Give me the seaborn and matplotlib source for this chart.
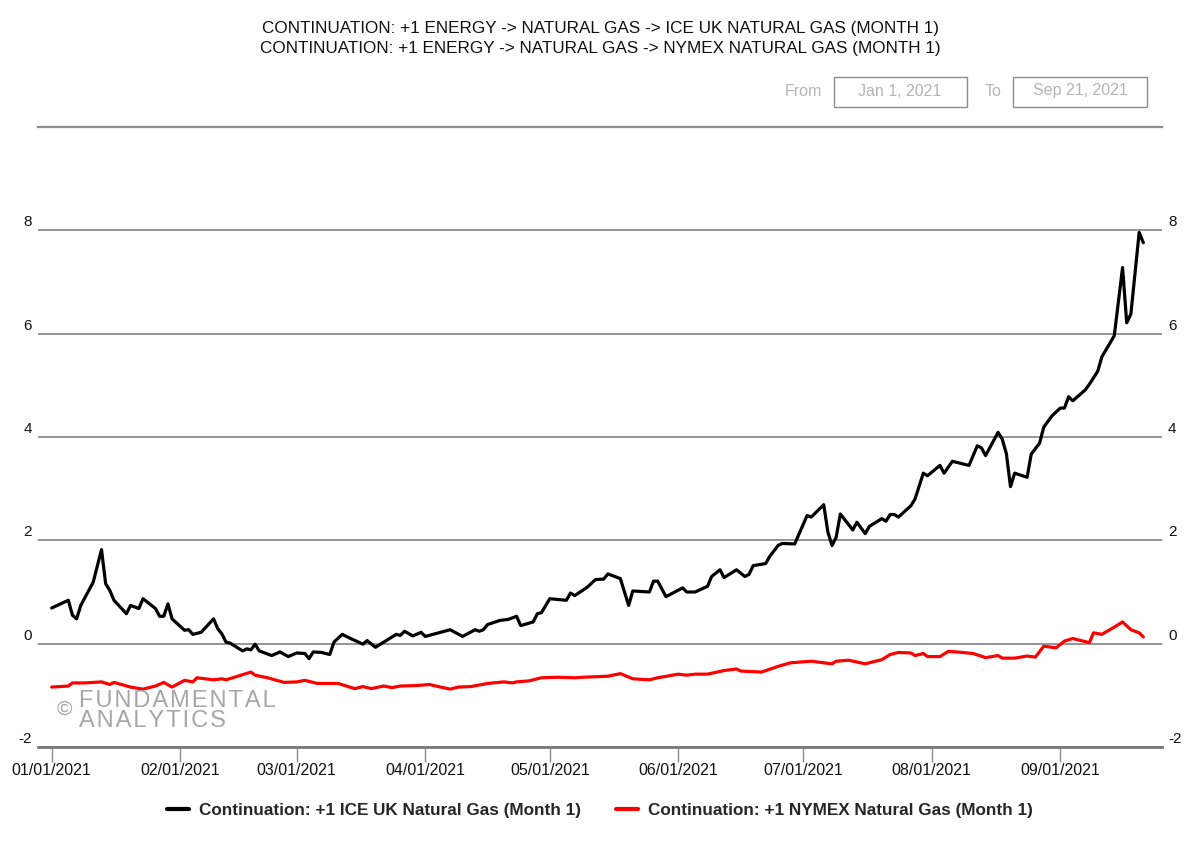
import numpy as np
import pandas as pd
import matplotlib
matplotlib.use("Agg")
import matplotlib.pyplot as plt
import matplotlib.dates as mdates
from matplotlib.lines import Line2D
from matplotlib.patches import Rectangle
import seaborn as sns

''' Data (read off the reference picture) '''
title_lines = [
    "CONTINUATION: +1 ENERGY -> NATURAL GAS -> ICE UK NATURAL GAS (MONTH 1)",
    "CONTINUATION: +1 ENERGY -> NATURAL GAS -> NYMEX NATURAL GAS (MONTH 1)",
]
series_names = [
    "Continuation: +1 ICE UK Natural Gas (Month 1)",
    "Continuation: +1 NYMEX Natural Gas (Month 1)",
]
series_colors = ["#000000", "#ff0000"]
range_from = "Jan 1, 2021"
range_to = "Sep 21, 2021"

#days since 2021-01-01
ice_day = [0, 4, 5, 6, 7, 10, 12, 13, 14, 15, 18, 19, 21, 22, 25, 26, 27, 28, 29,
           32, 33, 34, 36, 39, 40, 41, 42, 43, 46, 47, 48, 49, 50, 53, 55, 57, 59,
           61, 62, 63, 65, 67, 68, 70, 72, 75, 76, 78, 80, 83, 84, 85, 87, 89, 90,
           96, 99, 102, 103, 104, 105, 108, 110, 112, 113, 116, 117, 118, 120, 124,
           125, 126, 129, 131, 133, 134, 137, 139, 140, 144, 145, 146, 148, 152,
           153, 155, 158, 159, 161, 162, 165, 167, 168, 169, 172, 173, 175, 176,
           179, 182, 183, 186, 187, 188, 189, 190, 193, 194, 196, 197, 200, 201,
           202, 203, 204, 207, 208, 210, 211, 214, 215, 217, 221, 223, 224, 225,
           228, 229, 230, 231, 232, 235, 236, 238, 239, 241, 243, 244, 245, 246,
           249, 250, 252, 253, 256, 258, 259, 260, 262, 263]
ice_val = [0.69, 0.84, 0.55, 0.48, 0.74, 1.19, 1.82, 1.16, 1.03, 0.84, 0.58, 0.74, 0.68, 0.87, 0.68, 0.53, 0.53, 0.77, 0.48,
           0.26, 0.27, 0.18, 0.22, 0.48, 0.29, 0.19, 0.03, 0.01, -0.14, -0.10, -0.12, -0.01, -0.14, -0.23, -0.16, -0.25, -0.18,
           -0.19, -0.29, -0.16, -0.17, -0.21, 0.03, 0.18, 0.10, -0.01, 0.06, -0.07, 0.03, 0.18, 0.16, 0.24, 0.15, 0.22, 0.14,
           0.27, 0.14, 0.27, 0.24, 0.27, 0.37, 0.45, 0.47, 0.53, 0.35, 0.42, 0.58, 0.60, 0.87, 0.84,
           0.98, 0.93, 1.09, 1.24, 1.25, 1.35, 1.26, 0.74, 1.02, 1.00, 1.21, 1.21, 0.91, 1.08,
           1.00, 1.00, 1.11, 1.30, 1.43, 1.28, 1.43, 1.30, 1.34, 1.51, 1.55, 1.69, 1.90, 1.94,
           1.93, 2.48, 2.45, 2.69, 2.16, 1.90, 2.06, 2.51, 2.20, 2.35, 2.13, 2.27, 2.42, 2.37,
           2.50, 2.50, 2.45, 2.67, 2.80, 3.30, 3.25, 3.45, 3.30, 3.53, 3.45, 3.83, 3.79, 3.64,
           4.09, 3.96, 3.68, 3.04, 3.30, 3.22, 3.67, 3.88, 4.19, 4.41, 4.56, 4.56, 4.78, 4.70,
           4.91, 5.02, 5.27, 5.55, 5.96, 7.28, 6.21, 6.38, 7.96, 7.76]

nymex_day = [0, 4, 5, 8, 12, 14, 15, 19, 22, 25, 27, 29, 32, 34, 35, 39, 41, 42, 48, 49,
             52, 56, 59, 61, 64, 69, 73, 75, 77, 80, 82, 84, 88, 91, 92, 96, 98, 101,
             105, 109, 111, 112, 115, 118, 122, 126, 128, 134, 137, 140, 144, 146, 151,
             153, 155, 158, 162, 165, 166, 171, 175, 178, 183, 188, 189, 192, 196, 200,
             202, 204, 207, 208, 210, 211, 214, 216, 218, 222, 225, 228, 229, 232, 235,
             237, 239, 242, 244, 246, 250, 251, 253, 256, 258, 260, 262, 263]
nymex_val = [-0.84, -0.82, -0.76, -0.76, -0.74, -0.79, -0.75, -0.84, -0.88, -0.82, -0.75, -0.84, -0.71, -0.74, -0.66, -0.70, -0.68, -0.70, -0.55, -0.61,
             -0.66, -0.75, -0.74, -0.71, -0.77, -0.77, -0.87, -0.83, -0.87, -0.82, -0.85, -0.82, -0.81, -0.79, -0.81, -0.88, -0.84, -0.83,
             -0.77, -0.74, -0.76, -0.74, -0.72, -0.66, -0.65, -0.66, -0.65, -0.63, -0.58, -0.68, -0.70, -0.66, -0.59,
             -0.61, -0.59, -0.59, -0.52, -0.49, -0.53, -0.55, -0.44, -0.37, -0.34, -0.39, -0.34, -0.32, -0.39, -0.31,
             -0.21, -0.17, -0.18, -0.23, -0.19, -0.25, -0.25, -0.15, -0.16, -0.19, -0.27, -0.23, -0.28, -0.28, -0.24,
             -0.26, -0.05, -0.08, 0.05, 0.10, 0.02, 0.21, 0.18, 0.32, 0.42, 0.27, 0.21, 0.13]

y_ticks = [-2, 0, 2, 4, 6, 8]
month_ticks = ["2021-01-01", "2021-02-01", "2021-03-01", "2021-04-01", "2021-05-01",
               "2021-06-01", "2021-07-01", "2021-08-01", "2021-09-01"]

''' Build the table '''
base = pd.Timestamp("2021-01-01")
df = pd.concat([
    pd.DataFrame({"date": base + pd.to_timedelta(ice_day, unit="D"),
                  "value": ice_val, "series": series_names[0]}),
    pd.DataFrame({"date": base + pd.to_timedelta(nymex_day, unit="D"),
                  "value": nymex_val, "series": series_names[1]}),
], ignore_index=True)

''' Plot '''
sns.set_theme(style="white")
plt.rcParams["font.family"] = ["Liberation Sans", "DejaVu Sans"]

W, H = 1200, 848
fig = plt.figure(figsize=(12, 8.48), dpi=100)
ax = fig.add_axes([38 / W, 1 - 747 / H, 1124 / W, 620 / H])

sns.lineplot(data=df, x="date", y="value", hue="series", hue_order=series_names,
             palette=series_colors, linewidth=2.3, estimator=None, legend=False, ax=ax)

ax.set_xlim(base - pd.Timedelta(days=3.3), base + pd.Timedelta(days=267.5))
ax.set_ylim(-2, 10)
ax.set_xlabel("")
ax.set_ylabel("")

#gridlines
ax.set_yticks(y_ticks + [10])
ax.yaxis.grid(True, color="#8c8c8c", linewidth=1.3)
ax.xaxis.grid(False)
ax.tick_params(axis="y", left=False, right=False, labelleft=False, labelright=False)
for side in ["left", "right"]:
    ax.spines[side].set_visible(False)
ax.spines["top"].set_color("#8c8c8c")
ax.spines["top"].set_linewidth(1.6)
ax.spines["bottom"].set_color("#7a7a7a")
ax.spines["bottom"].set_linewidth(2)

#y labels sit just above the lines, both sides
for v in y_ticks:
    ax.annotate(str(v), xy=(0, v), xycoords=("axes fraction", "data"),
                xytext=(-6, 8), textcoords="offset pixels", ha="right", va="center",
                fontsize=11, color="#111111")
    ax.annotate(str(v), xy=(1, v), xycoords=("axes fraction", "data"),
                xytext=(6, 8), textcoords="offset pixels", ha="left", va="center",
                fontsize=11, color="#111111")

#x ticks
ax.set_xticks(pd.to_datetime(month_ticks))
ax.xaxis.set_major_formatter(mdates.DateFormatter("%m/%d/%Y"))
ax.tick_params(axis="x", bottom=True, length=11, width=1, color="#8c8c8c",
               pad=0.5, labelsize=11.5, labelcolor="#111111")

#titles
fig.text(0.5, 1 - 28 / H, title_lines[0], ha="center", va="center", fontsize=12.3, color="#111111")
fig.text(0.5, 1 - 48 / H, title_lines[1], ha="center", va="center", fontsize=12.3, color="#111111")

#date range boxes
box_color = "#8c8c8c"
txt_color = "#b4b4b4"
fig.text(803 / W, 1 - 91 / H, "From", ha="center", va="center", fontsize=11.5, color=txt_color)
fig.add_artist(Rectangle((834 / W, 1 - 107 / H), 133 / W, 30 / H, transform=fig.transFigure,
                         fill=False, ec=box_color, lw=1))
fig.text(900 / W, 1 - 91 / H, range_from, ha="center", va="center", fontsize=11.5, color=txt_color)
fig.text(993 / W, 1 - 91 / H, "To", ha="center", va="center", fontsize=11.5, color=txt_color)
fig.add_artist(Rectangle((1013 / W, 1 - 107 / H), 134 / W, 30 / H, transform=fig.transFigure,
                         fill=False, ec=box_color, lw=1))
fig.text(1080 / W, 1 - 91 / H, range_to, ha="center", va="center", fontsize=11.5, color=txt_color)

#watermark
wm = "#a6a6a6"
fig.text(57 / W, 1 - 715 / H, "\u00a9", ha="left", va="baseline", fontsize=15, color=wm)
fig.text(79 / W, 1 - 707 / H, "\u200a".join("FUNDAMENTAL"), ha="left", va="baseline",
         fontsize=17, color=wm)
fig.text(79 / W, 1 - 727 / H, "\u200a".join("ANALYTICS"), ha="left", va="baseline",
         fontsize=17, color=wm)

#legend
handles = [Line2D([], [], color=c, lw=3) for c in series_colors]
fig.legend(handles=handles, labels=series_names, loc="center", bbox_to_anchor=(0.5, 1 - 810 / H),
           ncol=2, frameon=False, prop={"weight": "bold", "size": 12.3},
           handlelength=1.3, handletextpad=0.6, columnspacing=2.0)

fig.savefig("out.png", dpi=100)
